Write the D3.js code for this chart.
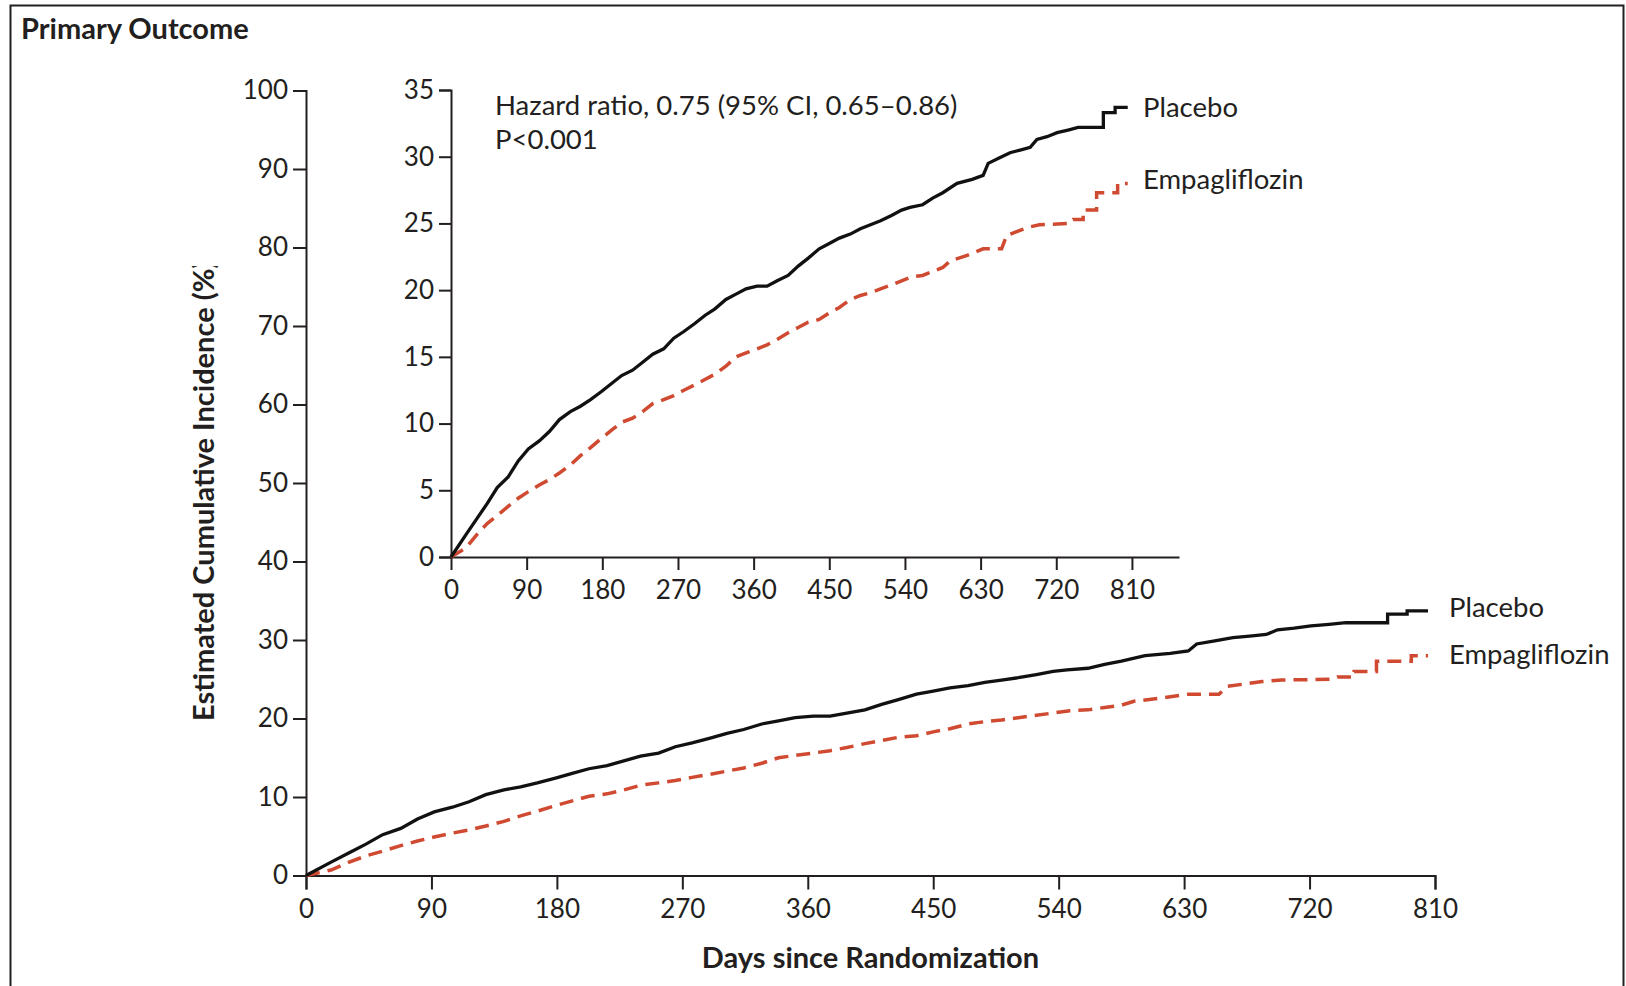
<!DOCTYPE html>
<html>
<head>
<meta charset="utf-8">
<script src="https://cdn.jsdelivr.net/npm/d3@7"></script>
<style>
body { margin: 0; background: #fff; }
svg text { font-family: Lato, "Open Sans", sans-serif; fill: #231f20; }
</style>
</head>
<body>
<svg id="chart"></svg>
<script>
// values: [day, cumulative incidence %]
var placebo = [[0,0],[18,1.7],[31,2.9],[43,4.0],[55,5.2],[68,6.0],[80,7.2],[92,8.1],[105,8.7],[117,9.4],
  [129,10.3],[142,10.9],[154,11.3],[166,11.8],[179,12.4],[191,13.0],[203,13.6],[216,14.0],[228,14.6],[240,15.2],
  [253,15.6],[265,16.4],[277,16.9],[290,17.5],[302,18.1],[314,18.6],[327,19.3],[339,19.7],[351,20.1],[364,20.3],
  [376,20.3],[388,20.7],[401,21.1],[413,21.8],[425,22.4],[438,23.1],[450,23.5],[462,23.9],[475,24.2],[487,24.6],
  [499,24.9],[511,25.2],[524,25.6],[536,26.0],[546,26.2],[561,26.4],[573,26.9],[585,27.3],[602,28.0],[620,28.3],
  [633,28.6],[639,29.5],[652,29.9],[665,30.3],[677,30.5],[689,30.7],[697,31.3],[709,31.5],[721,31.8],[734,32.0],
  [746,32.2],[776,32.2],[776,33.3],[790,33.3],[790,33.7],[805,33.7]];

var empagliflozin = [[0,0],[18,0.7],[31,1.7],[43,2.5],[55,3.1],[68,3.8],[80,4.4],[92,4.9],[105,5.4],[117,5.8],
  [129,6.3],[142,6.9],[154,7.6],[166,8.2],[179,8.9],[191,9.5],[203,10.1],[216,10.4],[228,10.9],[240,11.5],
  [253,11.8],[265,12.1],[277,12.5],[290,12.9],[302,13.3],[314,13.7],[327,14.3],[339,15.0],[351,15.3],[364,15.6],
  [376,15.9],[388,16.3],[401,16.8],[413,17.2],[425,17.6],[438,17.8],[450,18.3],[462,18.7],[475,19.3],[487,19.6],
  [499,19.8],[511,20.1],[524,20.4],[536,20.7],[548,21.0],[561,21.1],[573,21.4],[585,21.7],[594,22.2],[614,22.6],
  [633,23.1],[655,23.1],[661,24.1],[686,24.7],[700,24.9],[736,25.0],[740,25.3],[752,25.3],[752,26.0],[768,26.0],
  [768,27.3],[793,27.3],[793,28.0],[805,28.0]];

var dayTicks = [0, 90, 180, 270, 360, 450, 540, 630, 720, 810];
var mainYTicks = [0, 10, 20, 30, 40, 50, 60, 70, 80, 90, 100];
var insetYTicks = [0, 5, 10, 15, 20, 25, 30, 35];
var seriesNames = ["Placebo", "Empagliflozin"];
var hazardText = ["Hazard ratio, 0.75 (95% CI, 0.65\u20130.86)", "P<0.001"];

var width = 1626, height = 986;
var ink = "#231f20", red = "#cf4a30";
var textSize = "27.5px", boldSize = "29px";

var svg = d3.select("#chart").attr("width", width).attr("height", height);

// frame
svg.append("path")
  .attr("d", "M10.5," + height + "V5.5H1623.5V" + height)
  .style("fill", "none").style("stroke", ink).style("stroke-width", 2);

svg.append("text").attr("x", 21).attr("y", 39)
  .style("font-size", boldSize).style("font-weight", "bold")
  .text("Primary Outcome");

// main panel scales
var x = d3.scaleLinear().domain([0, 810]).range([306, 1435]);
var y = d3.scaleLinear().domain([0, 100]).range([875.5, 90.5]);

// inset scales (x axis line runs a bit past 810)
var xi = d3.scaleLinear().domain([0, 866]).range([451, 1179]);
var yi = d3.scaleLinear().domain([0, 35]).range([557, 90]);

function styleAxis(g, fs) {
  g.select(".domain").style("stroke", ink).style("stroke-width", 2);
  g.selectAll(".tick line").style("stroke", ink).style("stroke-width", 2);
  g.selectAll(".tick text").style("font-size", fs).style("fill", ink)
    .style("font-family", "Lato, 'Open Sans', sans-serif");
}

svg.append("g").attr("transform", "translate(0,875.5)")
  .call(d3.axisBottom(x).tickValues(dayTicks).tickSize(14).tickPadding(10))
  .call(styleAxis, "26px");

svg.append("g").attr("transform", "translate(306,0)")
  .call(d3.axisLeft(y).tickValues(mainYTicks).tickSize(13).tickPadding(5))
  .call(styleAxis, "26px");

svg.append("g").attr("transform", "translate(0,557)")
  .call(d3.axisBottom(xi).tickValues(dayTicks).tickSize(13).tickSizeOuter(0).tickPadding(11))
  .call(styleAxis, "26px");

svg.append("g").attr("transform", "translate(451,0)")
  .call(d3.axisLeft(yi).tickValues(insetYTicks).tickSize(12).tickPadding(5))
  .call(styleAxis, "26px");

// axis titles
svg.append("text").attr("x", x(405)).attr("y", 968)
  .attr("text-anchor", "middle")
  .style("font-size", boldSize).style("font-weight", "bold")
  .text("Days since Randomization");

// the y title is cut off at its top end in the original
svg.append("clipPath").attr("id", "ylabClip")
  .append("rect").attr("x", 0).attr("y", 266).attr("width", 300).attr("height", 700);

svg.append("g").attr("clip-path", "url(#ylabClip)")
  .append("text")
  .attr("transform", "translate(214,721) rotate(-90)")
  .style("font-size", boldSize).style("font-weight", "bold")
  .text("Estimated Cumulative Incidence (%)");

// curves
function drawCurves(xs, ys) {
  var line = d3.line().x(function(d) { return xs(d[0]); }).y(function(d) { return ys(d[1]); });
  svg.append("path").datum(empagliflozin).attr("d", line)
    .style("fill", "none").style("stroke", red).style("stroke-width", 3.5)
    .style("stroke-dasharray", "14,8");
  svg.append("path").datum(placebo).attr("d", line)
    .style("fill", "none").style("stroke", "#111").style("stroke-width", 3.3);
}
drawCurves(x, y);
drawCurves(xi, yi);

// series labels
svg.append("text").attr("x", 1449).attr("y", 617).style("font-size", textSize).text(seriesNames[0]);
svg.append("text").attr("x", 1449).attr("y", 664).style("font-size", textSize).text(seriesNames[1]);
svg.append("text").attr("x", 1143).attr("y", 117).style("font-size", textSize).text(seriesNames[0]);
svg.append("text").attr("x", 1143).attr("y", 189).style("font-size", textSize).text(seriesNames[1]);

svg.selectAll(".hr").data(hazardText).enter().append("text")
  .attr("x", 495).attr("y", function(d, i) { return 115 + i * 34; })
  .style("font-size", textSize)
  .text(function(d) { return d; });
</script>
</body>
</html>
